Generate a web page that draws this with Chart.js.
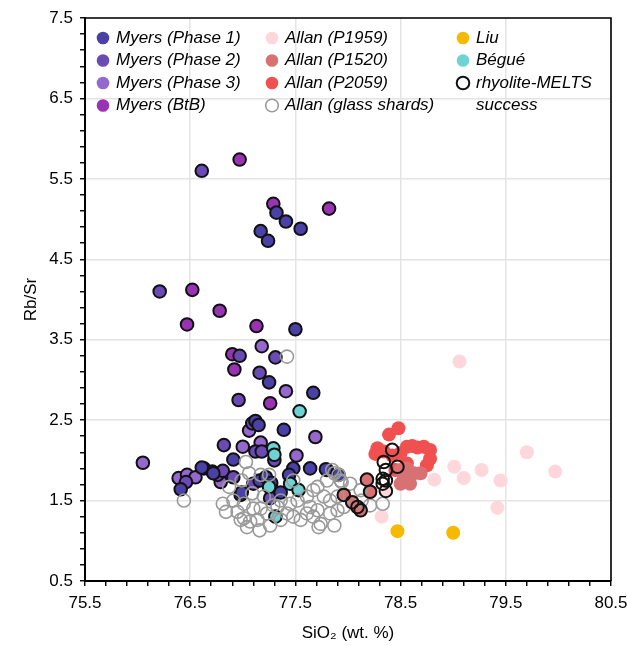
<!DOCTYPE html>
<html>
<head>
<meta charset="utf-8">
<script src="https://cdn.jsdelivr.net/npm/chart.js@4.4.1/dist/chart.umd.min.js"></script>
<style>
  html, body { margin: 0; padding: 0; background: #fff; }
  #wrap { width: 627px; height: 646px; position: relative; }
</style>
</head>
<body>
<div id="wrap"><canvas id="chart"></canvas></div>
<script>
// axis ticks (labelled majors, unlabelled minors every 0.2)
var xTickLabels = [75.5, 76.5, 77.5, 78.5, 79.5, 80.5];
var yTickLabels = [0.5, 1.5, 2.5, 3.5, 4.5, 5.5, 6.5, 7.5];
var minorStep = 0.2;

// [SiO2, Rb/Sr]
var myersPhase1 = [
  [77.32, 5.08], [77.41, 4.97], [77.55, 4.88], [77.17, 4.85], [77.24, 4.73],
  [77.50, 3.63], [77.25, 2.97], [77.67, 2.84], [77.12, 2.49], [77.15, 2.44],
  [77.39, 2.38], [77.48, 1.90], [77.64, 1.90], [76.91, 2.01], [76.61, 1.91],
  [76.41, 1.64], [77.16, 1.75], [77.22, 1.79], [77.36, 1.60], [77.44, 1.82],
  [77.79, 1.89], [77.91, 1.82], [76.72, 1.84], [77.27, 1.72], [76.99, 1.60]
];
var myersPhase2 = [
  [76.61, 5.60], [76.21, 4.10], [76.97, 3.30], [77.31, 3.28], [77.16, 3.09],
  [76.96, 2.75], [76.82, 2.19], [77.12, 2.11], [77.18, 2.11], [77.30, 2.00],
  [76.63, 1.90], [76.71, 1.86], [76.76, 1.82], [76.81, 1.87], [76.46, 1.73],
  [76.91, 1.79], [76.98, 1.57], [77.10, 1.71], [77.26, 1.53], [77.80, 1.88],
  [77.09, 2.46]
];
var myersPhase3 = [
  [77.18, 3.42], [77.41, 2.86], [77.06, 2.37], [77.69, 2.29], [77.00, 2.17],
  [77.17, 2.22], [77.51, 2.06], [76.05, 1.97], [76.39, 1.78], [76.47, 1.82],
  [76.55, 1.79], [76.79, 1.73]
];
var myersBtB = [
  [76.97, 5.74], [77.29, 5.19], [77.82, 5.13], [76.52, 4.12], [76.78, 3.86],
  [76.47, 3.69], [77.13, 3.67], [76.90, 3.32], [76.92, 3.13], [77.26, 2.71]
];
var allanP1959 = [
  [79.06, 3.23], [79.70, 2.10], [79.97, 1.86], [79.01, 1.92], [79.10, 1.78],
  [79.27, 1.88], [79.45, 1.75], [79.42, 1.41], [78.82, 1.76], [78.32, 1.30],
  [78.36, 1.62]
];
var allanP1520 = [
  [78.53, 1.80], [78.63, 1.84], [78.69, 1.84], [78.50, 1.71], [78.59, 1.71],
  [78.56, 1.90], [78.50, 1.88], [78.18, 1.76], [78.21, 1.61], [78.04, 1.48],
  [78.12, 1.38], [77.96, 1.57], [78.09, 1.42]
];
var allanP2059 = [
  [78.48, 2.40], [78.39, 2.32], [78.28, 2.15], [78.26, 2.08], [78.34, 2.11],
  [78.56, 2.17], [78.66, 2.16], [78.72, 2.17], [78.78, 2.13], [78.78, 2.02],
  [78.75, 1.94], [78.56, 1.96], [78.50, 2.09], [78.45, 1.88], [78.61, 2.18],
  [78.42, 2.06]
];
var allanGlass = [
  [77.03, 1.98], [77.06, 1.84], [77.17, 1.82], [77.25, 1.82], [76.99, 1.75],
  [77.09, 1.59], [76.81, 1.46], [76.84, 1.36], [76.95, 1.36], [77.01, 1.28],
  [77.07, 1.24], [77.16, 1.13], [77.04, 1.17], [77.14, 1.26], [77.26, 1.19],
  [77.17, 1.40], [77.23, 1.34], [77.33, 1.42], [77.42, 1.34], [77.48, 1.30],
  [77.55, 1.26], [77.61, 1.34], [77.67, 1.30], [77.72, 1.17], [77.87, 1.19],
  [77.61, 1.55], [77.67, 1.63], [77.77, 1.55], [77.83, 1.50], [77.90, 1.55],
  [77.80, 1.75], [77.87, 1.84], [77.94, 1.73], [77.48, 1.75], [77.52, 1.50],
  [77.45, 1.46], [77.01, 1.46], [77.10, 1.40], [76.91, 1.50], [76.87, 1.67],
  [77.36, 1.50], [77.29, 1.44], [77.90, 1.38], [77.71, 1.38], [77.64, 1.42],
  [76.98, 1.26], [77.36, 1.26], [77.20, 1.55], [77.96, 1.42], [78.12, 1.63],
  [77.93, 1.75], [78.02, 1.71], [77.85, 1.88], [77.91, 1.82], [77.71, 1.67],
  [77.83, 1.34], [77.74, 1.21], [78.33, 1.46], [78.13, 1.50], [76.44, 1.50],
  [77.42, 3.29], [78.21, 1.44]
];
var liu = [[78.47, 1.12], [79.00, 1.10]];
var begue = [
  [77.54, 2.61], [77.29, 2.15], [77.30, 2.07], [77.25, 1.67], [77.45, 1.71],
  [77.53, 1.63], [77.31, 1.30]
];
// successful rhyolite-MELTS runs that are not already outlined Myers points
var meltsSuccess = [
  [78.42, 2.13], [78.34, 1.98], [78.36, 1.88], [78.47, 1.92], [78.33, 1.77],
  [78.36, 1.75], [78.33, 1.71], [78.36, 1.62], [78.18, 1.76], [78.21, 1.61],
  [78.04, 1.48], [78.12, 1.38], [77.96, 1.57], [78.09, 1.42]
];

var FONT = '"Liberation Sans", Arial, Helvetica, sans-serif';

function pts(arr) {
  return arr.map(function (p) { return { x: p[0], y: p[1] }; });
}

function filled(label, data, color, order, outlined) {
  return {
    label: label,
    data: pts(data),
    backgroundColor: color,
    borderColor: outlined ? '#111111' : color,
    borderWidth: outlined ? 2 : 0,
    pointRadius: outlined ? 6.3 : 7,
    order: order
  };
}

var datasets = [
  filled('Myers (Phase 1)', myersPhase1, '#4a40a6', 5, true),
  filled('Myers (Phase 2)', myersPhase2, '#6a4ab5', 5, true),
  filled('Myers (Phase 3)', myersPhase3, '#9468ce', 5, true),
  filled('Myers (BtB)', myersBtB, '#9a32b4', 5, true),
  filled('Allan (P1959)', allanP1959, '#fdd7db', 9, false),
  filled('Allan (P1520)', allanP1520, '#d87272', 7, false),
  filled('Allan (P2059)', allanP2059, '#f05050', 8, false),
  {
    label: 'Allan (glass shards)', data: pts(allanGlass),
    backgroundColor: 'rgba(0,0,0,0)', borderColor: '#9a9a9a',
    borderWidth: 1.6, pointRadius: 6.5, order: 2
  },
  filled('Liu', liu, '#f7b900', 3, false),
  filled('Bégué', begue, '#6fd3d3', 4, true),
  {
    label: 'rhyolite-MELTS\nsuccess', data: pts(meltsSuccess),
    backgroundColor: 'rgba(0,0,0,0)', borderColor: '#111111',
    borderWidth: 2, pointRadius: 6.3, order: 1
  }
];

function isMajor(list, v) {
  return list.some(function (m) { return Math.abs(m - v) < 1e-6; });
}

function minorTicks(scale) {
  var t = [];
  var n = Math.round((scale.max - scale.min) / minorStep);
  for (var i = 0; i <= n; i++) {
    t.push({ value: +(scale.min + i * minorStep).toFixed(2) });
  }
  scale.ticks = t;
}

// frame on top/right and a three-column legend inside the plot
var frameAndLegend = {
  id: 'frameAndLegend',
  afterDraw: function (chart) {
    var ctx = chart.ctx, a = chart.chartArea;
    ctx.save();
    ctx.strokeStyle = '#000';
    ctx.lineWidth = 1.6;
    ctx.beginPath();
    ctx.moveTo(a.left, a.top);
    ctx.lineTo(a.right, a.top);
    ctx.lineTo(a.right, a.bottom);
    ctx.stroke();

    var colX = [103, 272, 463];
    var rowY = [38, 60.5, 83, 105.5];
    var cols = [[0, 1, 2, 3], [4, 5, 6, 7], [8, 9, 10]];
    ctx.font = 'italic 17px ' + FONT;
    ctx.textBaseline = 'middle';
    cols.forEach(function (col, c) {
      col.forEach(function (di, r) {
        var ds = chart.data.datasets[di];
        var x = colX[c], y = rowY[r];
        ctx.beginPath();
        ctx.arc(x, y, 6.3, 0, Math.PI * 2);
        if (ds.backgroundColor === 'rgba(0,0,0,0)') {
          ctx.lineWidth = ds.borderWidth;
          ctx.strokeStyle = ds.borderColor;
          ctx.stroke();
        } else {
          ctx.fillStyle = ds.backgroundColor;
          ctx.fill();
        }
        ctx.fillStyle = '#000';
        ds.label.split('\n').forEach(function (line, k) {
          ctx.fillText(line, x + 13, y + k * 22.5);
        });
      });
    });
    ctx.restore();
  }
};

function axis(min, max, majors, titleText, titlePad, fit) {
  return {
    type: 'linear',
    min: min,
    max: max,
    afterBuildTicks: minorTicks,
    afterFit: fit,
    ticks: {
      autoSkip: false,
      maxRotation: 0,
      padding: 7,
      color: '#000',
      font: { size: 17, family: FONT },
      callback: function (v) { return isMajor(majors, v) ? v.toFixed(1) : ''; }
    },
    grid: {
      color: function (c) {
        return c.tick && isMajor(majors, c.tick.value) ? '#e4e4e4' : 'rgba(0,0,0,0)';
      },
      lineWidth: 1.5,
      tickLength: 5,
      tickColor: '#000',
      tickWidth: 1.4
    },
    border: { color: '#000', width: 2 },
    title: {
      display: true,
      text: titleText,
      color: '#000',
      font: { size: 17, family: FONT },
      padding: titlePad
    }
  };
}

new Chart(document.getElementById('chart'), {
  type: 'scatter',
  data: { datasets: datasets },
  options: {
    responsive: true,
    maintainAspectRatio: false,
    animation: false,
    layout: { padding: { left: 0, right: 16, top: 18, bottom: 0 } },
    plugins: {
      legend: { display: false },
      tooltip: { enabled: false }
    },
    scales: {
      x: axis(75.5, 80.5, xTickLabels, 'SiO\u2082 (wt. %)', { top: 0, bottom: 2 },
        function (s) { s.height = 65; s.paddingLeft = 0; s.paddingRight = 0; }),
      y: axis(0.5, 7.5, yTickLabels, 'Rb/Sr', { top: 21, bottom: 0 },
        function (s) { s.width = 85; s.paddingTop = 0; s.paddingBottom = 0; })
    }
  },
  plugins: [frameAndLegend]
});
</script>
</body>
</html>
